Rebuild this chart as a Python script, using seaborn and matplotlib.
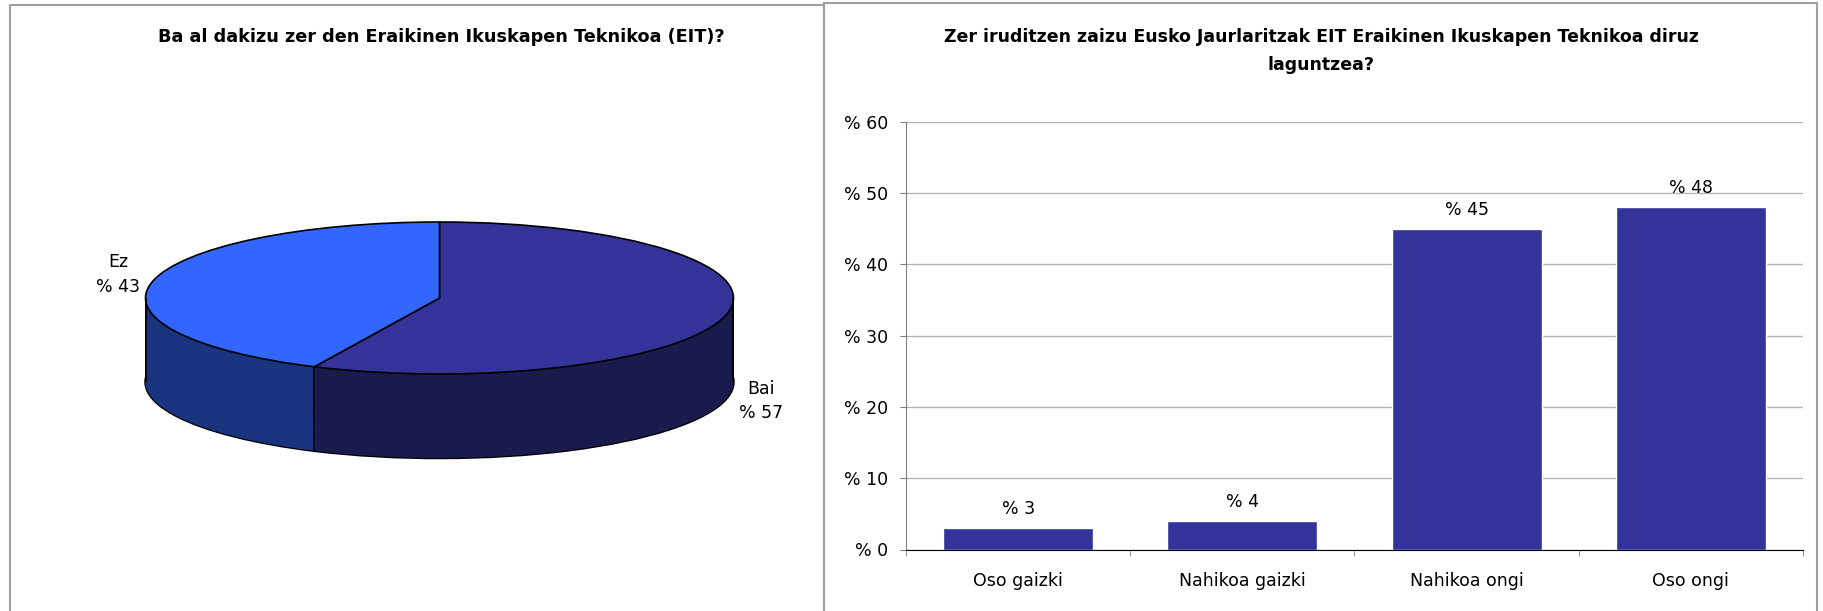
import numpy as np
import matplotlib
matplotlib.use('Agg')
import seaborn as sns

from matplotlib import pyplot as plt
from matplotlib.patches import Rectangle


# left chart: pie
PIE_TITLE = 'Ba al dakizu zer den Eraikinen Ikuskapen Teknikoa (EIT)?'
PIE_LABELS = ['Bai', 'Ez']
PIE_VALUES = [57, 43]

# right chart: bars
BAR_TITLE = 'Zer iruditzen zaizu Eusko Jaurlaritzak EIT Eraikinen Ikuskapen Teknikoa diruz\nlaguntzea?'
BAR_CATEGORIES = ['Oso gaizki', 'Nahikoa gaizki', 'Nahikoa ongi', 'Oso ongi']
BAR_VALUES = [3, 4, 45, 48]
Y_TICKS = [0, 10, 20, 30, 40, 50, 60]

W, H = 1824, 611


def fx(px):
    return px / W


def fy(py):
    return 1 - py / H


def draw_pie(fig):
    # pixel geometry of the flattened 3d pie
    cx, cy, rx, ry, dpx = 439.5, 298, 294, 76, 84
    depth = dpx / ry

    ax = fig.add_axes([0, 0, fx(824), 1])
    top_colors = ['#333399', '#3366FF']
    side_colors = ['#1A1A4C', '#1A337F']
    kw = dict(startangle=90, counterclock=False, radius=1)

    # bottom outline, then the side built from stacked slices, then the top
    ax.pie(PIE_VALUES, colors=side_colors, center=(0, -depth),
           wedgeprops=dict(edgecolor='black', linewidth=1.8), **kw)
    for t in np.linspace(depth, 0, 90):
        ax.pie(PIE_VALUES, colors=side_colors, center=(0, -t),
               wedgeprops=dict(linewidth=0), **kw)
    ax.pie(PIE_VALUES, colors=top_colors, center=(0, 0),
           wedgeprops=dict(edgecolor='black', linewidth=1.2), **kw)

    # vertical edges of the side
    split = np.deg2rad(90 - 360 * PIE_VALUES[0] / sum(PIE_VALUES))
    ax.vlines([-1, 1], -depth, 0, color='black', lw=1.2)
    ax.vlines(np.cos(split), np.sin(split) - depth, np.sin(split), color='black', lw=1.2)

    # labels at the middle of each slice
    cum = 0
    for lab, val in zip(PIE_LABELS, PIE_VALUES):
        mid = np.deg2rad(90 - 360 * (cum + val / 2) / sum(PIE_VALUES))
        cum += val
        x = 1.12 * np.cos(mid)
        y = 1.15 * np.sin(mid)
        if y < 0:
            y -= depth
        else:
            y += 0.06
        ax.text(x, y, f'{lab}\n% {val}', ha='center', va='center',
                multialignment='center', fontsize=12.5, linespacing=1.45)

    ax.set_aspect('auto')
    ax.set_xlim(-cx / rx, (824 - cx) / rx)
    ax.set_ylim(-(H - cy) / ry, cy / ry)
    ax.axis('off')

    fig.text(fx(441), fy(37), PIE_TITLE, ha='center', va='center',
             fontsize=12.7, fontweight='bold')


def draw_bars(fig):
    ax = fig.add_axes([fx(906), fy(549.5), fx(1803 - 906), (549.5 - 121.6) / H])
    sns.barplot(x=BAR_CATEGORIES, y=BAR_VALUES, color='#333399', saturation=1,
                width=0.67, ax=ax)
    ax.set_xlim(-0.5, len(BAR_CATEGORIES) - 0.5)
    ax.set_ylim(0, 60)
    ax.set_yticks(Y_TICKS)
    ax.set_yticklabels([f'% {t}' for t in Y_TICKS])
    ax.set_xticks(np.arange(len(BAR_CATEGORIES) + 1) - 0.5, minor=True)
    ax.yaxis.grid(True, color='#b4b4b4', lw=1)
    ax.set_axisbelow(True)
    for s in ['top', 'right']:
        ax.spines[s].set_visible(False)
    ax.spines['left'].set_color('#808080')
    ax.spines['bottom'].set_color('black')
    ax.tick_params(axis='y', length=4, color='#808080', labelcolor='black',
                   pad=9, labelsize=12.5, left=True)
    ax.tick_params(axis='x', which='major', length=0, pad=16, labelsize=12.5,
                   labelcolor='black')
    ax.tick_params(axis='x', which='minor', length=4, color='#808080', bottom=True)
    ax.set_xlabel('')
    ax.set_ylabel('')
    ax.bar_label(ax.containers[0], labels=[f'% {v}' for v in BAR_VALUES],
                 padding=7, fontsize=12.5)

    fig.text(fx(1321), fy(51), BAR_TITLE, ha='center', va='center',
             fontsize=12.5, fontweight='bold', linespacing=1.65)


def main():
    sns.set_style('white')
    plt.rcParams['font.family'] = ['DejaVu Sans']
    plt.rcParams['text.color'] = 'black'

    fig = plt.figure(figsize=(W / 100, H / 100), dpi=100)

    # panel frames
    fig.add_artist(Rectangle((fx(10), -0.1), fx(824 - 10), fy(5) + 0.1,
                             transform=fig.transFigure, fill=False,
                             edgecolor='#a0a0a0', lw=1.5))
    fig.add_artist(Rectangle((fx(824), -0.1), fx(1817 - 824), fy(3) + 0.1,
                             transform=fig.transFigure, fill=False,
                             edgecolor='#a0a0a0', lw=1.5))

    draw_pie(fig)
    draw_bars(fig)

    fig.savefig('out.png', dpi=100)


if __name__ == '__main__':
    main()
